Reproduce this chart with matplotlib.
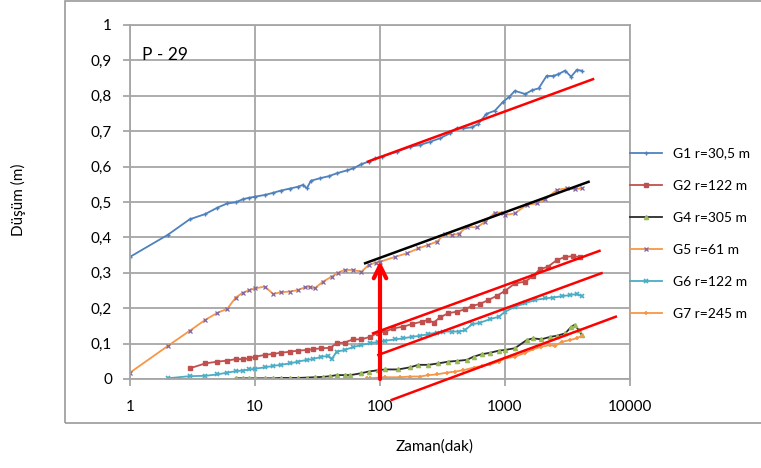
import matplotlib
matplotlib.use("Agg")
import matplotlib.pyplot as plt
from matplotlib.patches import Rectangle
from matplotlib.ticker import FixedLocator, FuncFormatter, NullLocator

plt.rcParams['font.family'] = ['Lato', 'DejaVu Sans']

# --- veriler (grafikten okunan yaklaşık değerler) ---
g1_t = [1, 2, 3, 4, 5, 6, 7, 8, 9, 10, 12, 14, 16, 19, 22, 24, 26, 28, 33, 39, 45, 54, 61, 71, 81,
        91, 103, 136, 174, 209, 251, 302, 363, 410, 464, 540, 610, 710, 830, 965, 1080, 1200,
        1450, 1650, 1860, 2150, 2420, 2670, 3020, 3380, 3750, 4120]
g1_s = [0.345, 0.407, 0.451, 0.466, 0.484, 0.496, 0.499, 0.508, 0.512, 0.515, 0.520, 0.526, 0.532,
        0.538, 0.543, 0.548, 0.539, 0.560, 0.567, 0.573, 0.581, 0.589, 0.595, 0.607, 0.614,
        0.623, 0.628, 0.642, 0.656, 0.661, 0.670, 0.680, 0.694, 0.708, 0.708, 0.711, 0.720,
        0.749, 0.758, 0.783, 0.797, 0.814, 0.805, 0.816, 0.821, 0.856, 0.856, 0.861, 0.871,
        0.854, 0.873, 0.871]

g2_t = [3, 4, 5, 6, 7, 8, 9, 10, 12, 14, 16, 19, 22, 26, 29, 34, 40, 45, 52, 61, 71, 83, 97,
        110, 128, 154, 179, 216, 244, 268, 302, 352, 410, 480, 540, 630, 735, 860, 1000, 1200,
        1450, 1680, 1900, 2200, 2600, 3030, 3530, 3980]
g2_s = [0.030, 0.044, 0.049, 0.052, 0.056, 0.056, 0.058, 0.063, 0.068, 0.071, 0.074, 0.077, 0.080,
        0.082, 0.084, 0.087, 0.088, 0.101, 0.103, 0.112, 0.112, 0.119, 0.131, 0.134, 0.143,
        0.148, 0.155, 0.162, 0.167, 0.159, 0.174, 0.186, 0.190, 0.197, 0.206, 0.212, 0.223,
        0.235, 0.249, 0.270, 0.275, 0.291, 0.310, 0.317, 0.336, 0.345, 0.347, 0.344]

g4_t = [7, 8, 9, 10, 12, 14, 16, 19, 22, 26, 30, 35, 40, 45, 52, 58, 70, 81, 97, 110, 140, 174,
        203, 244, 292, 352, 410, 495, 560, 650, 760, 890, 1000, 1200, 1490, 1680, 1950, 2300,
        2600, 3030, 3400, 3600, 3900, 4120]
g4_s = [0.002, 0.002, 0.002, 0.002, 0.002, 0.002, 0.003, 0.003, 0.003, 0.004, 0.005, 0.006, 0.008,
        0.011, 0.011, 0.011, 0.016, 0.021, 0.025, 0.027, 0.027, 0.033, 0.040, 0.040, 0.044,
        0.049, 0.051, 0.054, 0.063, 0.070, 0.074, 0.080, 0.082, 0.087, 0.110, 0.115, 0.112,
        0.119, 0.122, 0.129, 0.148, 0.153, 0.138, 0.124]

g5_t = [1, 2, 3, 4, 5, 6, 7, 8, 9, 10, 12, 14, 16, 19, 22, 25, 27.5, 30, 35, 41, 46, 52, 61, 71,
        81, 93, 100, 132, 164, 203, 244, 285, 331, 375, 426, 495, 595, 690, 830, 965, 1000,
        1200, 1490, 1800, 2100, 2600, 3130, 3600, 4120]
g5_s = [0.018, 0.093, 0.136, 0.167, 0.187, 0.198, 0.230, 0.244, 0.251, 0.256, 0.261, 0.240, 0.245,
        0.247, 0.251, 0.259, 0.261, 0.256, 0.275, 0.289, 0.300, 0.308, 0.308, 0.303, 0.322,
        0.329, 0.331, 0.345, 0.355, 0.369, 0.379, 0.388, 0.410, 0.407, 0.410, 0.430, 0.428,
        0.444, 0.470, 0.470, 0.463, 0.468, 0.492, 0.496, 0.508, 0.534, 0.539, 0.536, 0.539]

g6_t = [2, 3, 4, 5, 6, 7, 8, 9, 10, 12, 14, 16, 19, 22, 26, 29, 34, 38.6, 41, 45, 52, 61, 71, 83,
        97, 110, 132, 154, 179, 209, 244, 285, 322, 375, 426, 480, 540, 630, 760, 890, 1000,
        1200, 1450, 1740, 2100, 2420, 2850, 3300, 3750, 4120]
g6_s = [0.002, 0.008, 0.009, 0.013, 0.018, 0.022, 0.024, 0.027, 0.029, 0.033, 0.037, 0.040, 0.044,
        0.049, 0.054, 0.056, 0.063, 0.065, 0.056, 0.077, 0.082, 0.090, 0.096, 0.101, 0.105,
        0.108, 0.112, 0.115, 0.119, 0.122, 0.127, 0.131, 0.134, 0.134, 0.134, 0.138, 0.154,
        0.159, 0.169, 0.176, 0.190, 0.204, 0.214, 0.223, 0.228, 0.230, 0.234, 0.237, 0.240, 0.234]

g7_t = [78, 83, 110, 145, 174, 209, 244, 285, 342, 400, 464, 560, 650, 760, 890, 1000, 1200, 1450,
        1680, 1950, 2300, 2500, 2850, 3300, 3750, 4120]
g7_s = [0.004, 0.002, 0.005, 0.005, 0.007, 0.007, 0.011, 0.013, 0.018, 0.021, 0.025, 0.032, 0.037,
        0.041, 0.049, 0.058, 0.063, 0.074, 0.084, 0.091, 0.096, 0.093, 0.105, 0.110, 0.115, 0.122]

# elle çizilmiş doğrular (başlangıç/bitiş noktaları)
fit_g1_t, fit_g1_s = [80, 5060], [0.614, 0.847]
fit_g5_t, fit_g5_s = [76, 4660], [0.327, 0.557]
fit_g2_t, fit_g2_s = [88, 5700], [0.129, 0.362]
fit_g6_t, fit_g6_s = [97, 5920], [0.068, 0.299]
fit_g7_t, fit_g7_s = [124, 7700], [-0.059, 0.176]
arrow_t, arrow_s = 100, [0.0, 0.333]

x_ticks = [1, 10, 100, 1000, 10000]
y_ticks = [0, 0.1, 0.2, 0.3, 0.4, 0.5, 0.6, 0.7, 0.8, 0.9, 1.0]

fig = plt.figure(figsize=(7.61, 4.68), dpi=100)
ax = fig.add_axes([130 / 761, 1 - 379 / 468, 500 / 761, 354 / 468])

# grafik alanı çerçevesi
fig.patches.append(Rectangle((65 / 761, 1 - 423 / 468), 0.99, 422 / 468,
                             transform=fig.transFigure, fill=False,
                             edgecolor="#9a9a9a", linewidth=1.2))

ax.plot(g1_t, g1_s, color="#4F81BD", lw=1.3, marker="+", ms=3.5, mew=1.0, label="G1 r=30,5 m")
ax.plot(g2_t, g2_s, color="#C0504D", lw=1.3, marker="s", ms=3.0, label="G2 r=122 m")
ax.plot(g4_t, g4_s, color="#2b2b2b", lw=1.3, marker="^", ms=3, mfc="#9BBB59", mec="#9BBB59",
        label="G4 r=305 m")
ax.plot(g5_t, g5_s, color="#F79646", lw=1.3, marker="x", ms=3.5, mec="#8064A2", mew=0.9,
        label="G5 r=61 m")
ax.plot(g6_t, g6_s, color="#4BACC6", lw=1.3, marker="x", ms=3.2, mew=1.2, label="G6 r=122 m")
ax.plot(g7_t, g7_s, color="#F79646", lw=1.3, marker="+", ms=3.2, mew=1.2, label="G7 r=245 m")

for tt, ss, c in [(fit_g1_t, fit_g1_s, "red"), (fit_g5_t, fit_g5_s, "black"),
                  (fit_g2_t, fit_g2_s, "red"), (fit_g6_t, fit_g6_s, "red"),
                  (fit_g7_t, fit_g7_s, "red")]:
    ax.plot(tt, ss, color=c, lw=1.8, clip_on=False, zorder=5)

ax.annotate("", xy=(arrow_t, arrow_s[1]), xytext=(arrow_t, arrow_s[0]),
            arrowprops=dict(arrowstyle="->,head_length=0.9,head_width=0.45",
                            color="red", lw=3, shrinkA=0, shrinkB=0), zorder=6)

ax.set_xscale("log")
ax.set_xlim(1, 10000)
ax.set_ylim(0, 1)
ax.xaxis.set_major_locator(FixedLocator(x_ticks))
ax.xaxis.set_minor_locator(NullLocator())
ax.xaxis.set_major_formatter(FuncFormatter(lambda v, p: f"{v:g}"))
ax.yaxis.set_major_locator(FixedLocator(y_ticks))
ax.yaxis.set_major_formatter(FuncFormatter(lambda v, p: f"{v:g}".replace(".", ",")))
ax.grid(True, color="#a6a6a6", lw=1.3)
ax.set_axisbelow(True)
for sp in ax.spines.values():
    sp.set_color("#a6a6a6")
    sp.set_linewidth(1.3)
ax.tick_params(axis="both", colors="#a6a6a6", labelcolor="black", labelsize=11,
               length=5, width=1.3)
ax.tick_params(axis="y", pad=8)
ax.tick_params(axis="x", pad=10)

ax.text(0.025, 0.915, "P - 29", transform=ax.transAxes, fontsize=12.5, va="center")

fig.text(18 / 761, 1 - 200 / 468, "Düşüm (m)", rotation=90, fontsize=11,
         ha="center", va="center")
fig.text(435 / 761, 1 - 447 / 468, "Zaman(dak)", fontsize=11, ha="center", va="center")

fig.legend(loc="center left", bbox_to_anchor=(630 / 761, 1 - 234 / 468), frameon=False,
           fontsize=10, handlelength=2.3, handletextpad=0.8, labelspacing=1.45,
           borderaxespad=0, borderpad=0)

fig.savefig("out.png", dpi=100)
